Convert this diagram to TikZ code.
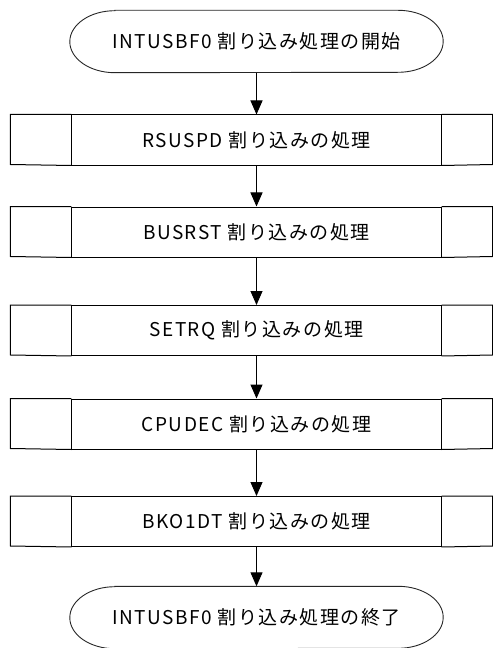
\documentclass[tikz,border=0pt]{standalone}
\usepackage{fontspec}
\setmainfont{Noto Sans CJK JP}[LetterSpace=8]
\usetikzlibrary{arrows.meta,calc}
\tikzset{
  proc/.style={draw=black,line width=1bp,minimum width=369bp,minimum height=50bp,inner sep=0pt,font=\fontsize{19bp}{21bp}\selectfont},
  term/.style={minimum width=373bp,minimum height=62bp,inner sep=0pt,font=\fontsize{19bp}{21bp}\selectfont},
  termline/.style={draw=black!85,line width=0.9bp},
  sideline/.style={draw=black,line width=1bp},
  arr/.style={draw=black,line width=1bp,-{Triangle[width=12bp,length=14bp]}},
}
\newcommand{\termshape}[1]{%
  \draw[termline] ([xshift=45bp]#1.north west) -- ([xshift=-45bp]#1.north east)
    arc[start angle=90,end angle=-90,x radius=45bp,y radius=31bp]
    -- ([xshift=45bp]#1.south west)
    arc[start angle=270,end angle=90,x radius=45bp,y radius=31bp] -- cycle;}
\newcommand{\sidecells}[1]{%
  \draw[sideline] (#1.north west) -- ++(-61bp,0) -- ++(0,-50bp) -- (#1.south west);
  \draw[sideline] (#1.north east) -- ++(51bp,0) -- ++(0,-50bp) -- (#1.south east);}
\begin{document}
\begin{tikzpicture}[x=1bp,y=-1bp]
\useasboundingbox (0,0) rectangle (493,648);
\node[term] (start) at (256.5,41.5) {INTUSBF0 割り込み処理の開始};
\termshape{start}
\node[proc] (b1) at (256.5,140) {RSUSPD 割り込みの処理};
\sidecells{b1}
\node[proc] (b2) at (256.5,232) {BUSRST 割り込みの処理};
\sidecells{b2}
\node[proc] (b3) at (256.5,330.5) {SETRQ 割り込みの処理};
\sidecells{b3}
\node[proc] (b4) at (256.5,424) {CPUDEC 割り込みの処理};
\sidecells{b4}
\node[proc] (b5) at (256.5,521.5) {BKO1DT 割り込みの処理};
\sidecells{b5}
\node[term] (end) at (256.5,617.5) {INTUSBF0 割り込み処理の終了};
\termshape{end}
\draw[arr] (start.south) -- (b1.north);
\draw[arr] (b1.south) -- (b2.north);
\draw[arr] (b2.south) -- (b3.north);
\draw[arr] (b3.south) -- (b4.north);
\draw[arr] (b4.south) -- (b5.north);
\draw[arr] (b5.south) -- (end.north);
\end{tikzpicture}
\end{document}
